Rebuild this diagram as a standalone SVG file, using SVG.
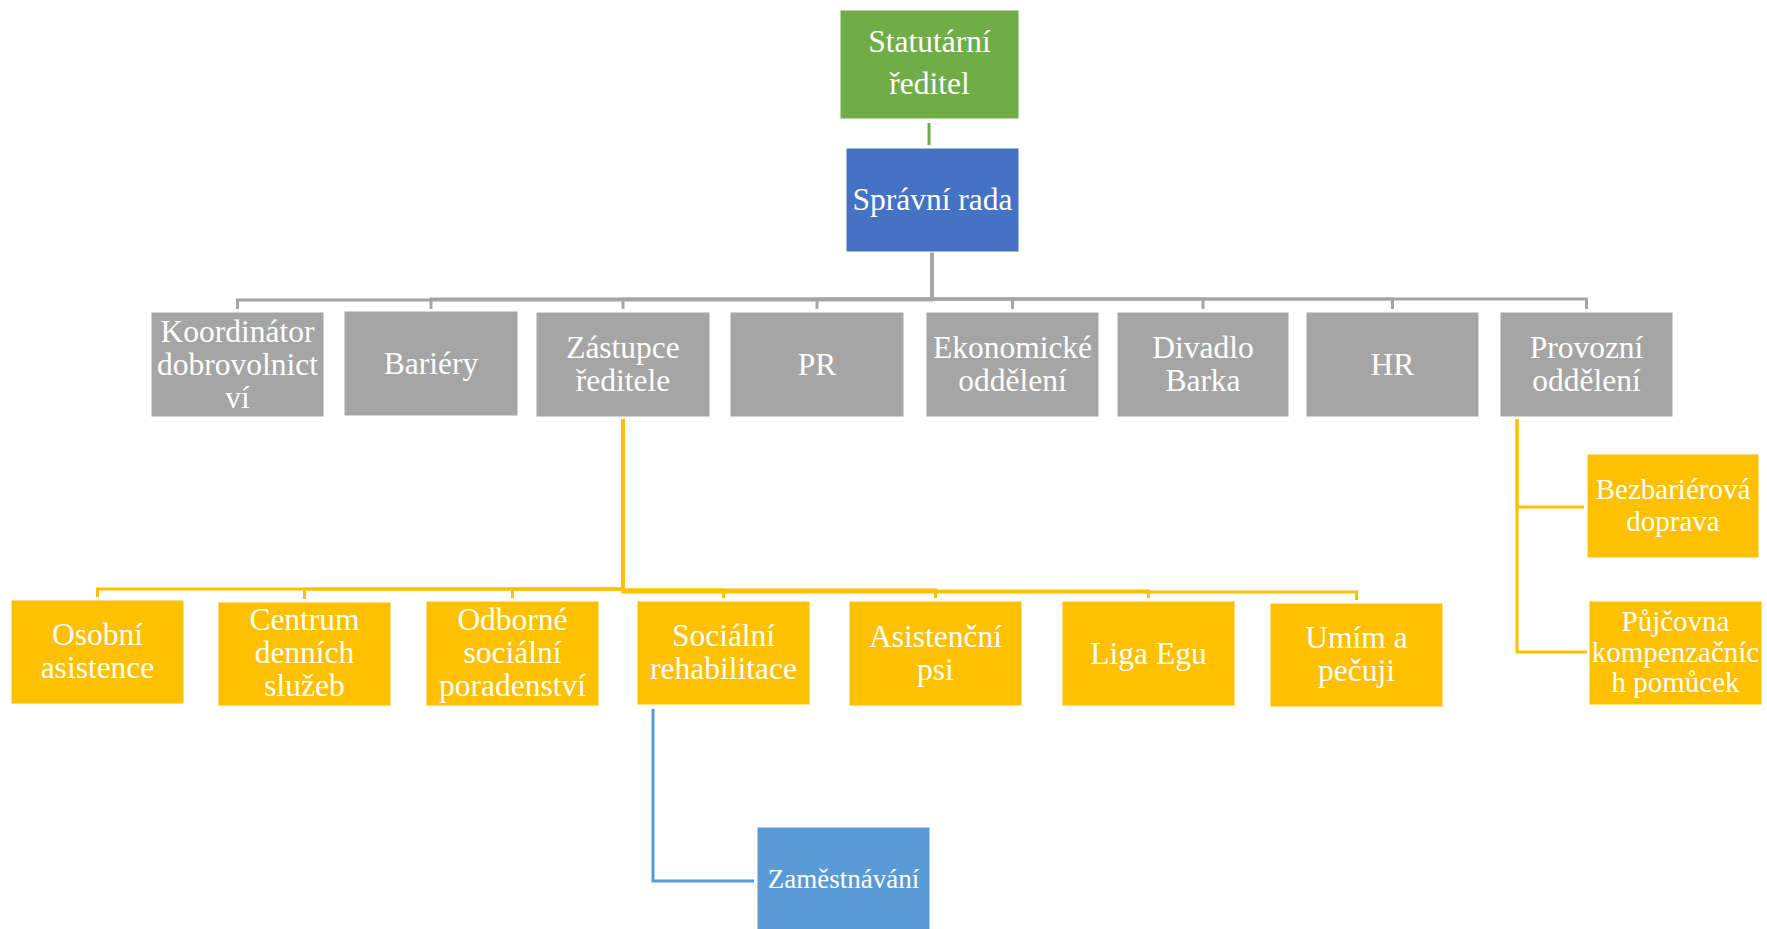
<svg xmlns="http://www.w3.org/2000/svg" width="1767" height="929" viewBox="0 0 1767 929">
<style>
.box{stroke:#ffffff;stroke-width:1}
.g{fill:#A5A5A5}
.y{fill:#FFC000}
.t{font-family:"Liberation Serif","Times New Roman",serif;font-size:31.5px;fill:#ffffff;text-anchor:middle}
.s{font-size:29px}
.c{fill:none;stroke-width:3}
.cg{stroke:#A5A5A5}
.cy{stroke:#FFC000}
</style>
<rect width="1767" height="929" fill="#ffffff"/>
<g id="connectors">
<path class="c" d="M929,123 V145" stroke="#70AD47"/>
<path class="c cg" d="M932,252 V300 H237.5 V309"/>
<path class="c cg" d="M932,252 V299 H431 V309"/>
<path class="c cg" d="M932,252 V299 H623 V309"/>
<path class="c cg" d="M932,252 V299 H817 V309"/>
<path class="c cg" d="M932,252 V299 H1012.5 V309"/>
<path class="c cg" d="M932,252 V299 H1203 V309"/>
<path class="c cg" d="M932,252 V299 H1392.5 V309"/>
<path class="c cg" d="M932,252 V299 H1586.5 V309"/>
<path class="c cy" d="M623,419 V589 H97.5 V597"/>
<path class="c cy" d="M623,419 V589 H304.5 V599"/>
<path class="c cy" d="M623,419 V589 H512.5 V598"/>
<path class="c cy" d="M623,419 V590 H723.5 V598"/>
<path class="c cy" d="M623,419 V590 H935.5 V598"/>
<path class="c cy" d="M623,419 V591 H1148.5 V598"/>
<path class="c cy" d="M623,419 V592 H1356.5 V600"/>
<path class="c cy" d="M1517,419 V507 H1584"/>
<path class="c cy" d="M1517,419 V652 H1587"/>
<path class="c" d="M653,709 V881 H754" stroke="#5B9BD5"/>
</g>
<g id="statutarni-reditel">
<rect class="box" x="840" y="10" width="179" height="109" fill="#70AD47"/>
<text class="t" x="929.5" y="52">Statutární</text>
<text class="t" x="929.5" y="94">ředitel</text>
</g>
<g id="spravni-rada">
<rect class="box" x="846" y="148" width="173" height="104" fill="#4472C4"/>
<text class="t" x="932.5" y="210">Správní rada</text>
</g>
<g id="koordinator">
<rect class="box g" x="151" y="312" width="173" height="105"/>
<text class="t" x="237.5" y="341.5">Koordinátor</text>
<text class="t" x="237.5" y="374.5">dobrovolnict</text>
<text class="t" x="237.5" y="407.5">ví</text>
</g>
<g id="bariery">
<rect class="box g" x="344" y="311" width="174" height="105"/>
<text class="t" x="431" y="374">Bariéry</text>
</g>
<g id="zastupce">
<rect class="box g" x="536" y="312" width="174" height="105"/>
<text class="t" x="623" y="358">Zástupce</text>
<text class="t" x="623" y="391">ředitele</text>
</g>
<g id="pr">
<rect class="box g" x="730" y="312" width="174" height="105"/>
<text class="t" x="817" y="375">PR</text>
</g>
<g id="ekonomicke">
<rect class="box g" x="926" y="312" width="173" height="105"/>
<text class="t" x="1012.5" y="358">Ekonomické</text>
<text class="t" x="1012.5" y="391">oddělení</text>
</g>
<g id="divadlo">
<rect class="box g" x="1117" y="312" width="172" height="105"/>
<text class="t" x="1203" y="358">Divadlo</text>
<text class="t" x="1203" y="391">Barka</text>
</g>
<g id="hr">
<rect class="box g" x="1306" y="312" width="173" height="105"/>
<text class="t" x="1392.5" y="375">HR</text>
</g>
<g id="provozni">
<rect class="box g" x="1500" y="312" width="173" height="105"/>
<text class="t" x="1586.5" y="358">Provozní</text>
<text class="t" x="1586.5" y="391">oddělení</text>
</g>
<g id="osobni-asistence">
<rect class="box y" x="11" y="600" width="173" height="104"/>
<text class="t" x="97.5" y="645">Osobní</text>
<text class="t" x="97.5" y="678">asistence</text>
</g>
<g id="centrum">
<rect class="box y" x="218" y="602" width="173" height="104"/>
<text class="t" x="304.5" y="630">Centrum</text>
<text class="t" x="304.5" y="663">denních</text>
<text class="t" x="304.5" y="696">služeb</text>
</g>
<g id="odborne">
<rect class="box y" x="426" y="601" width="173" height="105"/>
<text class="t" x="512.5" y="630">Odborné</text>
<text class="t" x="512.5" y="663">sociální</text>
<text class="t" x="512.5" y="696">poradenství</text>
</g>
<g id="socialni-rehabilitace">
<rect class="box y" x="637" y="601" width="173" height="104"/>
<text class="t" x="723.5" y="646">Sociální</text>
<text class="t" x="723.5" y="679">rehabilitace</text>
</g>
<g id="asistencni-psi">
<rect class="box y" x="849" y="601" width="173" height="105"/>
<text class="t" x="935.5" y="647">Asistenční</text>
<text class="t" x="935.5" y="680">psi</text>
</g>
<g id="liga-egu">
<rect class="box y" x="1062" y="601" width="173" height="105"/>
<text class="t" x="1148.5" y="664">Liga Egu</text>
</g>
<g id="umim">
<rect class="box y" x="1270" y="603" width="173" height="104"/>
<text class="t" x="1356.5" y="648">Umím a</text>
<text class="t" x="1356.5" y="681">pečuji</text>
</g>
<g id="bezbarierova">
<rect class="box y" x="1587" y="454" width="172" height="104"/>
<text class="t s" x="1673" y="499">Bezbariérová</text>
<text class="t s" x="1673" y="531">doprava</text>
</g>
<g id="pujcovna">
<rect class="box y" x="1589" y="601" width="173" height="104"/>
<text class="t s" x="1675.5" y="631">Půjčovna</text>
<text class="t s" x="1675.5" y="662">kompenzačníc</text>
<text class="t s" x="1675.5" y="692">h pomůcek</text>
</g>
<g id="zamestnavani">
<rect class="box" x="757" y="827" width="173" height="104" fill="#5B9BD5"/>
<text class="t" x="843.5" y="888" style="font-size:27px">Zaměstnávání</text>
</g>
</svg>
